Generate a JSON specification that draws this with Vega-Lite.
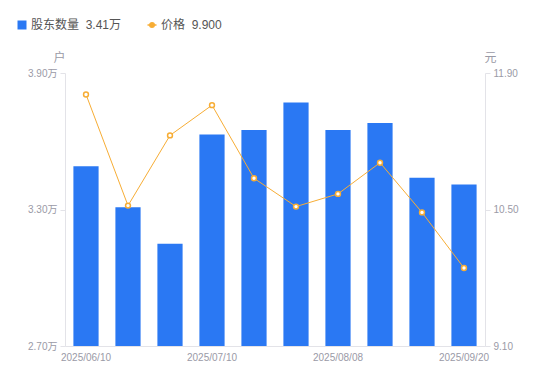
{
  "$schema": "https://vega.github.io/schema/vega-lite/v6.json",
  "width": 420,
  "height": 273,
  "autosize": {"type": "none"},
  "padding": {"left": 65, "top": 73, "right": 65, "bottom": 35},
  "config": {
    "font": "Liberation Sans, Noto Sans CJK SC, sans-serif",
    "view": {"stroke": null},
    "axis": {"grid": false}
  },
  "data": {
    "values": [
      {"date": "2025/06/10", "holders": 3.49, "price": 11.68},
      {"date": "2025/06/20", "holders": 3.31, "price": 10.54},
      {"date": "2025/06/30", "holders": 3.15, "price": 11.26},
      {"date": "2025/07/10", "holders": 3.63, "price": 11.57},
      {"date": "2025/07/20", "holders": 3.65, "price": 10.82},
      {"date": "2025/07/31", "holders": 3.77, "price": 10.53},
      {"date": "2025/08/08", "holders": 3.65, "price": 10.66},
      {"date": "2025/08/20", "holders": 3.68, "price": 10.98},
      {"date": "2025/08/31", "holders": 3.44, "price": 10.47},
      {"date": "2025/09/20", "holders": 3.41, "price": 9.90}
    ]
  },
  "encoding": {
    "x": {
      "field": "date",
      "type": "ordinal",
      "sort": null,
      "scale": {"paddingInner": 0.4, "paddingOuter": 0.2},
      "axis": {
        "title": null,
        "values": ["2025/06/10", "2025/07/10", "2025/08/08", "2025/09/20"],
        "labelAngle": 0,
        "ticks": false,
        "domainColor": "#e3e3e8",
        "labelColor": "#9a9aa6",
        "labelFontSize": 10,
        "labelPadding": 6
      }
    }
  },
  "layer": [
    {
      "mark": {"type": "bar"},
      "encoding": {
        "y": {
          "field": "holders",
          "type": "quantitative",
          "scale": {"domain": [2.7, 3.9], "zero": false, "nice": false},
          "axis": {
            "orient": "left",
            "values": [2.7, 3.3, 3.9],
            "labelExpr": "format(datum.value, '.2f') + '万'",
            "labelFlush": false,
            "labelOverlap": false,
            "tickSize": 5,
            "tickColor": "#e3e3e8",
            "domainColor": "#e3e3e8",
            "labelColor": "#9a9aa6",
            "labelFontSize": 10,
            "labelPadding": 3,
            "title": "户",
            "titleAngle": 0,
            "titleX": -6,
            "titleY": -16,
            "titleAlign": "center",
            "titleBaseline": "middle",
            "titleFontWeight": "normal",
            "titleFontSize": 12,
            "titleColor": "#9a9aa6"
          }
        },
        "y2": {"datum": 2.7},
        "color": {
          "datum": "股东数量",
          "scale": {"domain": ["股东数量", "价格"], "range": ["#2a78f3", "#f7ad35"]},
          "legend": {
            "orient": "none",
            "legendX": -49,
            "legendY": -54,
            "direction": "horizontal",
            "title": null,
            "padding": 0,
            "symbolSize": 81,
            "labelFontSize": 12,
            "labelColor": "#555555",
            "labelOffset": 3,
            "columnPadding": 22,
            "labelExpr": "datum.value === '价格' ? '价格\u00a0\u00a09.900' : '股东数量\u00a0\u00a03.41万'",
            "encode": {
              "symbols": {
                "update": {
                  "shape": {"signal": "datum.value === '价格' ? 'M-1,0L-0.5,0M0.5,0L1,0M-0.5,0C-0.5,-0.667,0.5,-0.667,0.5,0C0.5,0.667,-0.5,0.667,-0.5,0Z' : 'square'"},
                  "fill": {"signal": "datum.value === '价格' ? '#ffffff' : '#2a78f3'"},
                  "stroke": {"signal": "datum.value === '价格' ? '#f7ad35' : '#2a78f3'"},
                  "strokeWidth": {"signal": "datum.value === '价格' ? 1.5 : 0"},
                  "opacity": {"value": 1}
                }
              }
            }
          }
        }
      }
    },
    {
      "mark": {
        "type": "line",
        "strokeWidth": 1,
        "point": {"filled": false, "fill": "#ffffff", "size": 24, "strokeWidth": 1.5}
      },
      "encoding": {
        "y": {
          "field": "price",
          "type": "quantitative",
          "scale": {"domain": [9.1, 11.9], "zero": false, "nice": false},
          "axis": {
            "orient": "right",
            "values": [9.1, 10.5, 11.9],
            "format": ".2f",
            "labelFlush": false,
            "labelOverlap": false,
            "tickSize": 5,
            "tickColor": "#e3e3e8",
            "domainColor": "#e3e3e8",
            "labelColor": "#9a9aa6",
            "labelFontSize": 10,
            "labelPadding": 3,
            "title": "元",
            "titleAngle": 0,
            "titleX": 5,
            "titleY": -16,
            "titleAlign": "center",
            "titleBaseline": "middle",
            "titleFontWeight": "normal",
            "titleFontSize": 12,
            "titleColor": "#9a9aa6"
          }
        },
        "color": {"datum": "价格"}
      }
    }
  ],
  "resolve": {"scale": {"y": "independent"}}
}
